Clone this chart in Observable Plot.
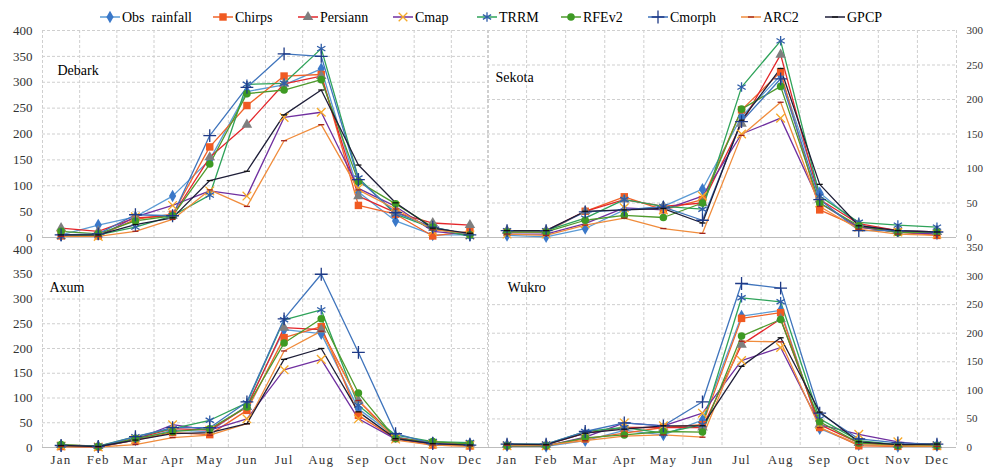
<!DOCTYPE html>
<html><head><meta charset="utf-8">
<script src="https://cdn.jsdelivr.net/npm/d3@7"></script>
<script src="https://cdn.jsdelivr.net/npm/@observablehq/plot@0.6"></script>
<style>
html,body{margin:0;padding:0;background:#fff;}
#chart{position:relative;width:989px;height:468px;overflow:hidden;background:#fff;}
.panel{position:absolute;}
.panel svg{overflow:visible;}
#chart svg text{font-family:"Liberation Serif","Times New Roman","DejaVu Serif",serif;}
.rightp g[aria-label^="y-axis"] text{font-family:"Liberation Sans",Arial,sans-serif;font-size:11px;}
g[aria-label^="x-axis"] text{letter-spacing:1.2px;}
#legend{position:absolute;left:0;top:0;}
</style></head><body><div id="chart"></div>
<script>
const months = ["Jan","Feb","Mar","Apr","May","Jun","Jul","Aug","Sep","Oct","Nov","Dec"];
const seriesNames = ["Obs  rainfall","Chirps","Persiann","Cmap","TRRM","RFEv2","Cmorph","ARC2","GPCP"];
const stationNames = ["Debark","Sekota","Axum","Wukro"];
const yTickMax = [400,300,400,350];

// rows: Obs, Chirps, Persiann, Cmap, TRRM, RFEv2, Cmorph, ARC2, GPCP
const debark = [
  [5,24,40,80,150,282,295,326,88,32,5,5],
  [3,3,35,45,175,255,312,315,62,45,3,12],
  [18,12,38,42,155,218,297,312,80,48,28,24],
  [5,2,40,62,90,80,232,242,95,60,12,5],
  [2,5,20,42,82,296,298,365,115,45,18,2],
  [12,7,32,42,142,278,285,305,108,65,20,5],
  [5,7,44,42,197,290,355,350,112,48,20,5],
  [2,2,12,35,92,60,187,218,92,55,15,8],
  [5,5,25,38,110,128,237,285,140,67,18,8]
];
const sekota = [
  [3,1,13,40,45,70,175,235,65,18,10,5],
  [8,8,38,59,40,55,185,240,40,15,8,3],
  [10,10,38,55,45,50,165,265,55,20,10,8],
  [5,5,20,43,40,60,150,173,50,15,8,5],
  [10,10,28,55,45,41,218,285,60,22,18,15],
  [8,8,25,32,29,50,186,219,50,17,7,8],
  [10,10,37,40,44,25,168,230,55,10,10,8],
  [5,3,18,28,13,6,148,196,45,12,5,3],
  [10,10,38,40,42,21,170,245,77,17,10,8]
];
const axum = [
  [3,2,15,35,32,85,238,230,78,22,8,5],
  [2,1,15,30,26,75,222,244,65,18,5,3],
  [5,3,18,38,35,82,242,238,95,20,10,8],
  [3,1,16,46,35,58,157,178,58,17,7,5],
  [5,3,22,38,55,90,258,278,85,25,12,10],
  [6,2,18,32,38,82,211,260,110,18,12,7],
  [4,2,22,40,40,92,260,350,192,28,8,5],
  [2,1,6,20,25,48,195,235,95,15,5,3],
  [4,2,15,28,30,48,178,200,72,18,8,5]
];
const wukro = [
  [3,2,12,30,22,48,230,240,33,5,2,3],
  [3,3,15,25,35,40,226,236,35,3,2,2],
  [5,5,25,35,35,35,180,225,40,8,5,4],
  [3,3,18,43,38,60,152,175,40,23,10,3],
  [6,6,28,35,25,40,262,255,50,12,5,6],
  [3,3,17,22,28,27,195,224,45,8,3,3],
  [6,6,28,43,38,80,287,279,60,15,8,6],
  [4,4,12,20,22,18,186,185,35,5,3,2],
  [6,5,25,32,38,38,142,192,62,10,5,6]
];

// styles (not data)
const lineColors = ["#5B9BD5","#F0642A","#E3262B","#7030A0","#2FA35A","#4E9A2C","#3F74BC","#F08C3C","#1E1E38"];
const markerColors = ["#3A78C9","#F05A22","#7F7F7F","#F7A928","#2F5DA8","#3E9A24","#1F3A86","#A0231E","#111111"];
const dashSymbol = {draw(ctx, size){ const w = Math.sqrt(size)*0.95; ctx.moveTo(-w/2,0); ctx.lineTo(w/2,0); }};
const markerSymbols = [d3.symbolDiamond, d3.symbolSquare, d3.symbolTriangle, d3.symbolTimes, d3.symbolAsterisk, d3.symbolCircle, d3.symbolPlus, dashSymbol, dashSymbol];
const markerFilled = [true,true,true,false,false,true,false,false,false];
const markerR = [3.8,4.2,3.9,4.0,4.5,3.8,4.2,3.6,3.6];

const serif = "Liberation Serif, Times New Roman, DejaVu Serif, serif";

function rowsOf(table){
  const out = [];
  table.forEach((vals, s) => vals.forEach((v, m) => out.push({s, m, v})));
  return out;
}

function panel(table, stationIdx, side, showX, box){
  const yMax = yTickMax[stationIdx];
  const rows = rowsOf(table);
  const grid = {stroke:"#cfcfcf", strokeDasharray:"3,2", strokeWidth:1};
  const marks = [
    Plot.ruleY(d3.range(50, yMax+1, 50), grid),
    Plot.ruleX(d3.range(0, 13), grid),
    Plot.ruleY([0], {stroke:"#bdbdbd", strokeWidth:1})
  ];
  seriesNames.forEach((name, s) => {
    const r = rows.filter(d => d.s === s);
    marks.push(Plot.line(r, {x: d => d.m + 0.5, y: "v", stroke: lineColors[s], strokeWidth: 1.3}));
  });
  seriesNames.forEach((name, s) => {
    const r = rows.filter(d => d.s === s);
    const opts = {x: d => d.m + 0.5, y: "v", r: markerR[s], symbol: markerSymbols[s]};
    if (markerFilled[s]) { opts.fill = markerColors[s]; opts.stroke = "none"; }
    else { opts.fill = "none"; opts.stroke = markerColors[s]; opts.strokeWidth = 1.3; }
    marks.push(Plot.dot(r, opts));
  });
  marks.push(Plot.text([stationNames[stationIdx]], {frameAnchor:"top-left", dx: box.lx, dy: box.ly, textAnchor:"start", fontFamily: serif, fontSize: 14, fill:"#000"}));
  const svg = Plot.plot({
    width: box.w, height: box.h,
    marginLeft: box.ml, marginRight: box.mr, marginTop: box.mt, marginBottom: box.mb,
    style: {background:"transparent", overflow:"visible", fontFamily: serif, fontSize:"13px", color:"#333"},
    x: {domain:[0,12], axis: showX ? "bottom" : null, ticks: months.map((m,i)=>i+0.5), tickFormat: d => months[Math.floor(d)], tickSize:0, tickPadding:7, label:null},
    y: {domain:[0,yMax], axis: side, ticks: d3.range(0, yMax+1, 50), tickSize:0, tickPadding:10, label:null},
    marks
  });
  const div = document.createElement("div");
  div.className = "panel" + (side === "right" ? " rightp" : "");
  div.style.left = box.left + "px";
  div.style.top = box.top + "px";
  div.appendChild(svg);
  document.getElementById("chart").appendChild(div);
}

panel(debark, 0, "left", false, {left:0, top:0, w:488, h:240, ml:42, mr:0, mt:30, mb:3, lx:15, ly:35});
panel(sekota, 1, "right", false, {left:487, top:0, w:502, h:240, ml:0, mr:33, mt:30, mb:3, lx:8, ly:42});
panel(axum, 2, "left", true, {left:0, top:240, w:488, h:228, ml:42, mr:0, mt:9, mb:21, lx:7, ly:33});
panel(wukro, 3, "right", true, {left:487, top:240, w:502, h:228, ml:0, mr:33, mt:7, mb:21, lx:20, ly:35});

// legend
const legendX = [100,213,298,393,477,561,648,741,825];
const leg = d3.select("#chart").append("svg").attr("id","legend").attr("width",989).attr("height",28);
seriesNames.forEach((name, s) => {
  const g = leg.append("g").attr("transform", `translate(${legendX[s]},17)`);
  g.append("line").attr("x1",0).attr("x2",20).attr("y1",0).attr("y2",0).attr("stroke",lineColors[s]).attr("stroke-width",1.5);
  const p = d3.symbol().type(markerSymbols[s]).size(Math.PI*markerR[s]*markerR[s])();
  const m = g.append("path").attr("d",p).attr("transform","translate(10,0)");
  if (markerFilled[s]) m.attr("fill",markerColors[s]); else m.attr("fill","none").attr("stroke",markerColors[s]).attr("stroke-width",1.3);
  g.append("text").attr("x",22).attr("y",0).attr("dy","0.35em").attr("font-size",14).attr("fill","#000").style("white-space","pre").text(name);
});
</script></body></html>
